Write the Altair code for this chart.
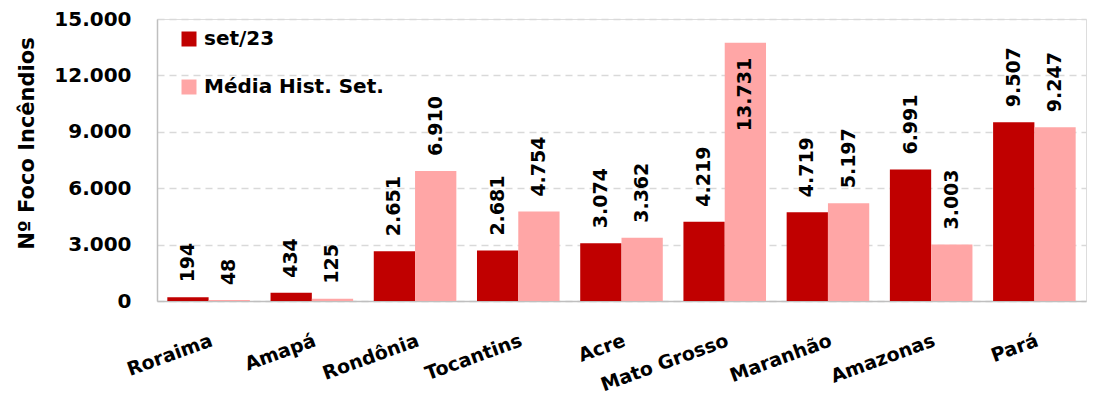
import altair as alt
import pandas as pd

states = ["Roraima", "Amapá", "Rondônia", "Tocantins", "Acre",
          "Mato Grosso", "Maranhão", "Amazonas", "Pará"]
set23 = [194, 434, 2651, 2681, 3074, 4219, 4719, 6991, 9507]
media_hist = [48, 125, 6910, 4754, 3362, 13731, 5197, 3003, 9247]
series_names = ["set/23", "Média Hist. Set."]
series_colors = ["#C00000", "#FFA6A6"]
y_ticks = [0, 3000, 6000, 9000, 12000, 15000]

rows = []
for i, st in enumerate(states):
    rows.append({"estado": st, "serie": series_names[0], "valor": set23[i]})
    rows.append({"estado": st, "serie": series_names[1], "valor": media_hist[i]})
df = pd.DataFrame(rows)
df["rotulo"] = df["valor"].map(lambda v: f"{v:,}".replace(",", "."))

FONT = "DejaVu Sans"

x_enc = alt.X("estado:N", sort=states, title=None,
              scale=alt.Scale(paddingInner=0.2, paddingOuter=0.1),
              axis=alt.Axis(labelAngle=-20, labelAlign="right", labelBaseline="top",
                            labelFontSize=19, labelFontWeight="bold", labelFont=FONT,
                            labelColor="black", labelPadding=30, ticks=False,
                            domainColor="#bfbfbf", domainWidth=1.5, labelOverlap=False))
y_enc = alt.Y("valor:Q", title="Nº Foco Incêndios",
              scale=alt.Scale(domain=[0, 15000], nice=False),
              axis=alt.Axis(values=y_ticks,
                            labelExpr="replace(format(datum.value, ','), ',', '.')",
                            labelFontSize=20, labelFontWeight="bold", labelFont=FONT,
                            labelColor="black", labelPadding=26, ticks=False,
                            domainColor="#bfbfbf", domainWidth=1.5,
                            gridColor="#d9d9d9", gridDash=[7, 5], gridWidth=1.5,
                            titleFontSize=21, titleFontWeight="bold", titleFont=FONT,
                            titleColor="black", titleX=-130, titleY=124,
                            titleAngle=-90, titleAlign="center", titleBaseline="middle"))
xoff = alt.XOffset("serie:N", sort=series_names, scale=alt.Scale(paddingInner=0, paddingOuter=0))

bars = alt.Chart(df).mark_bar().encode(
    x=x_enc, y=y_enc, xOffset=xoff,
    color=alt.Color("serie:N", sort=series_names,
                    scale=alt.Scale(domain=series_names, range=series_colors),
                    legend=alt.Legend(title=None, orient="none", legendX=22, legendY=10,
                                      symbolType="square", symbolSize=225,
                                      symbolStrokeWidth=0, labelFontSize=20,
                                      labelFontWeight="bold", labelFont=FONT,
                                      labelColor="black", rowPadding=28,
                                      labelOffset=5, labelLimit=400)),
)

label_style = dict(angle=270, fontSize=19, fontWeight="bold", font=FONT,
                   color="black", baseline="middle")

labels_out = alt.Chart(df).transform_filter("datum.valor < 12000").mark_text(
    align="left", dx=15, **label_style
).encode(x=alt.X("estado:N", sort=states), y="valor:Q", xOffset=xoff, text="rotulo:N")

labels_in = alt.Chart(df).transform_filter("datum.valor >= 12000").mark_text(
    align="right", dx=-15, **label_style
).encode(x=alt.X("estado:N", sort=states), y="valor:Q", xOffset=xoff, text="rotulo:N")

chart = alt.layer(bars, labels_out, labels_in).properties(
    width=929, height=282,
    autosize=alt.AutoSizeParams(type="none"),
    padding={"left": 157, "top": 19, "right": 7, "bottom": 104},
).configure_view(stroke=None).configure(background="white")

chart.save("out.html", embed_options={"renderer": "svg", "actions": False})
